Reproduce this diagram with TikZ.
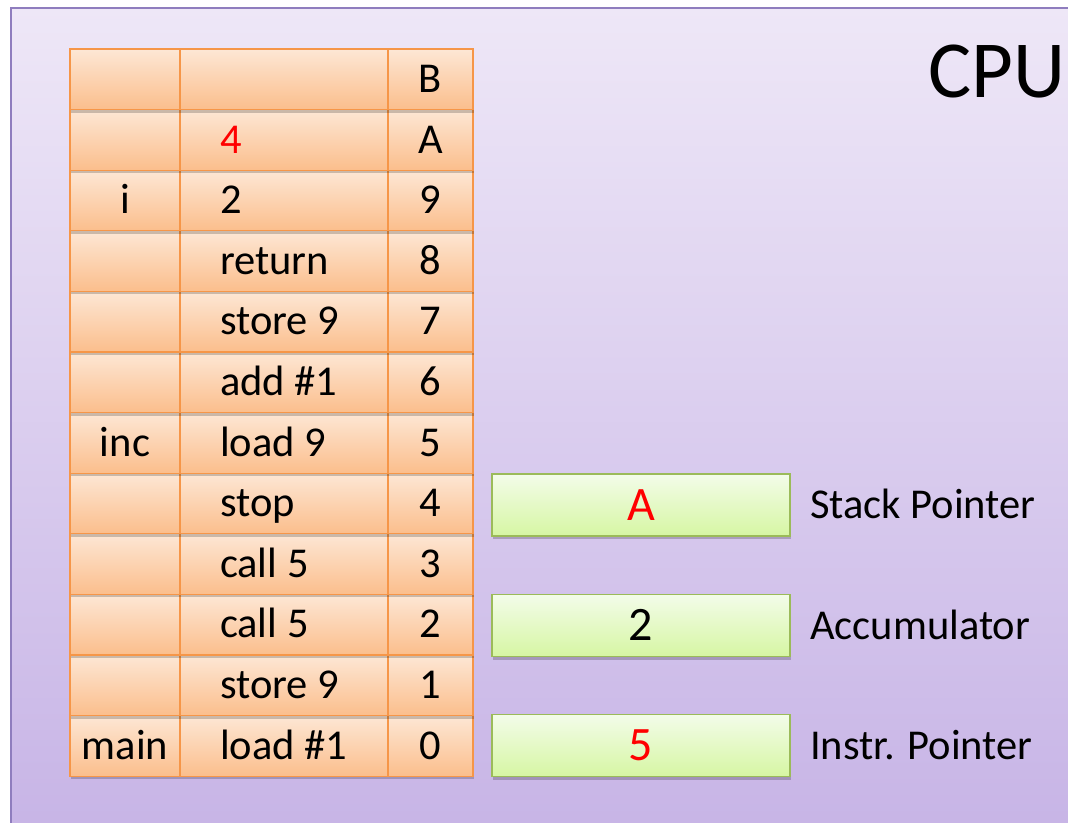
\documentclass[tikz,border=0pt]{standalone}
\usepackage{fontspec}
\setmainfont{Carlito}
\usetikzlibrary{shadows}
\definecolor{bgtop}{RGB}{238,231,247}
\definecolor{bgbot}{RGB}{199,180,230}
\definecolor{bgborder}{RGB}{143,125,190}
\definecolor{celltop}{RGB}{253,231,213}
\definecolor{cellbot}{RGB}{251,190,140}
\definecolor{cellborder}{RGB}{246,150,72}
\definecolor{gtop}{RGB}{243,252,233}
\definecolor{gbot}{RGB}{214,246,163}
\definecolor{gborder}{RGB}{155,187,89}
\tikzset{
  sh/.style={drop shadow={shadow xshift=0.8pt, shadow yshift=-3pt, opacity=0.2, fill=black}},
  cell/.style={sh, draw=cellborder, line width=1.3pt, top color=celltop, bottom color=cellbot,
    minimum height=60.6pt, inner sep=0pt, text height=26.5pt, text depth=0pt,
    font=\fontsize{42.5}{50}\selectfont},
  midcell/.style={cell, minimum width=208pt, inner xsep=40pt},
  gbox/.style={sh, draw=gborder, line width=1.3pt, top color=gtop, bottom color=gbot,
    minimum width=298pt, minimum height=62pt, inner sep=0pt, text height=30pt, text depth=0pt,
    font=\fontsize{48}{56}\selectfont},
  reglabel/.style={anchor=west, inner sep=0pt, font=\fontsize{42.5}{50}\selectfont, text height=27pt, text depth=0pt}
}
\newcommand\memrow[4]{%
  \pgfmathsetmacro\cy{49+60.6*#1+30.3}
  \node[cell, minimum width=110pt] (l#1) at (125,\cy) {#2};
  \node[midcell] (m#1) at (284,\cy) {\makebox[128pt][l]{#3}};
  \node[cell, minimum width=85pt] (r#1) at (430.5,\cy) {#4};
}
\begin{document}
\begin{tikzpicture}[x=1pt,y=-1pt]
\useasboundingbox (0,0) rectangle (1068,822);
\clip (0,0) rectangle (1068,822);
\fill[white] (0,0) rectangle (1068,822);
\draw[bgborder, line width=1.6pt, top color=bgtop, bottom color=bgbot] (11,8) rectangle (1100,835);
\node[anchor=base east, inner sep=0pt, font=\fontsize{81}{90}\selectfont] (cpu) at (1066,97) {CPU};
\memrow{11}{main}{load \#1}{0}
\memrow{10}{}{store 9}{1}
\memrow{9}{}{call 5}{2}
\memrow{8}{}{call 5}{3}
\memrow{7}{}{stop}{4}
\memrow{6}{inc}{load 9}{5}
\memrow{5}{}{add \#1}{6}
\memrow{4}{}{store 9}{7}
\memrow{3}{}{return}{8}
\memrow{2}{i}{2}{9}
\memrow{1}{}{\textcolor{red}{4}}{A}
\memrow{0}{}{}{B}
\node[gbox] (sp) at (641,505) {\textcolor{red}{A}};
\node[gbox] (acc) at (641,625.5) {2};
\node[gbox] (ip) at (641,745.5) {\textcolor{red}{5}};
\node[reglabel] (spl) at (810,505) {Stack Pointer};
\node[reglabel] (accl) at (810,625.5) {Accumulator};
\node[reglabel] (ipl) at (810,745.5) {Instr. Pointer};
\end{tikzpicture}
\end{document}
